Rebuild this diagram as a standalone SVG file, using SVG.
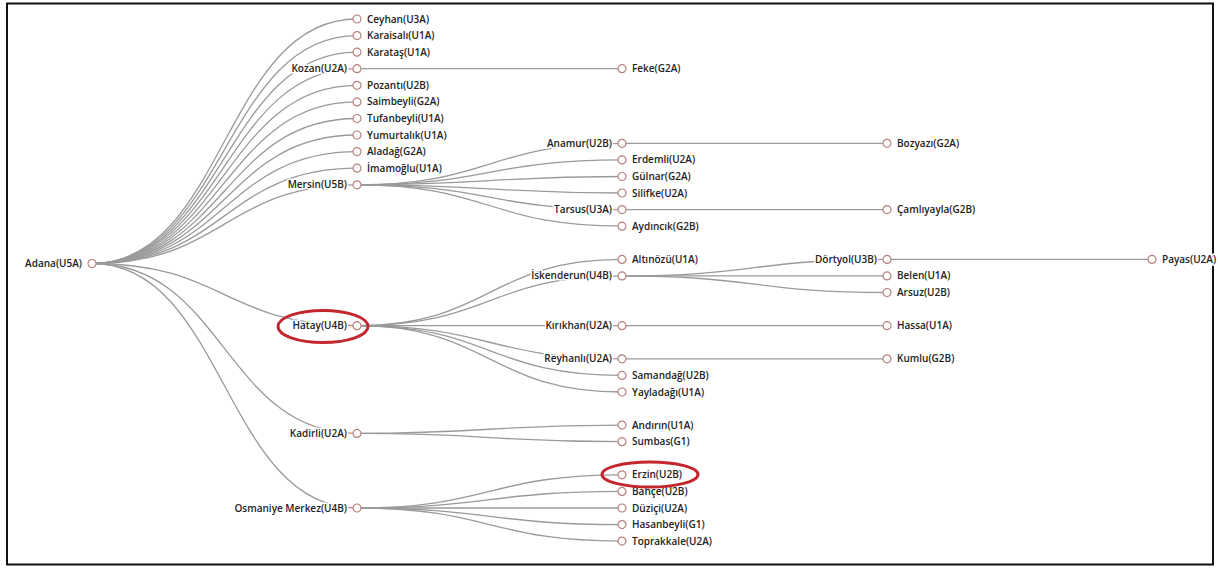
<svg xmlns="http://www.w3.org/2000/svg" width="1218" height="568" viewBox="0 0 1218 568">
<style>
.link{fill:none;stroke:#9a9a9a;stroke-width:1.3}
.node circle{fill:#fff;stroke:#b8827e;stroke-width:1.2}
.node text{font-family:"Open Sans","Noto Sans",sans-serif;font-weight:600;font-size:10px;fill:#222;stroke:#fff;stroke-width:3;stroke-linejoin:round;paint-order:stroke}
.node text.p{text-anchor:end}
.mark{fill:none;stroke:#c4262e;stroke-width:3}
</style>
<rect x="0" y="0" width="1218" height="568" fill="#fff"/>
<rect x="7" y="3.5" width="1206" height="561" fill="none" stroke="#111" stroke-width="2"/>
<g id="connectors">
<path class="link" d="M92,263.5C224.5,263.5 224.5,19 357,19"/>
<path class="link" d="M92,263.5C224.5,263.5 224.5,35.6 357,35.6"/>
<path class="link" d="M92,263.5C224.5,263.5 224.5,52.2 357,52.2"/>
<path class="link" d="M92,263.5C224.5,263.5 224.5,68.7 357,68.7"/>
<path class="link" d="M92,263.5C224.5,263.5 224.5,85.3 357,85.3"/>
<path class="link" d="M92,263.5C224.5,263.5 224.5,101.9 357,101.9"/>
<path class="link" d="M92,263.5C224.5,263.5 224.5,118.5 357,118.5"/>
<path class="link" d="M92,263.5C224.5,263.5 224.5,135 357,135"/>
<path class="link" d="M92,263.5C224.5,263.5 224.5,151.6 357,151.6"/>
<path class="link" d="M92,263.5C224.5,263.5 224.5,168.2 357,168.2"/>
<path class="link" d="M92,263.5C224.5,263.5 224.5,184.8 357,184.8"/>
<path class="link" d="M92,263.5C224.5,263.5 224.5,325.7 357,325.7"/>
<path class="link" d="M92,263.5C224.5,263.5 224.5,433.4 357,433.4"/>
<path class="link" d="M92,263.5C224.5,263.5 224.5,508 357,508"/>
<path class="link" d="M357,68.7C489.5,68.7 489.5,68.7 622,68.7"/>
<path class="link" d="M357,184.8C489.5,184.8 489.5,143.3 622,143.3"/>
<path class="link" d="M357,184.8C489.5,184.8 489.5,159.9 622,159.9"/>
<path class="link" d="M357,184.8C489.5,184.8 489.5,176.5 622,176.5"/>
<path class="link" d="M357,184.8C489.5,184.8 489.5,193 622,193"/>
<path class="link" d="M357,184.8C489.5,184.8 489.5,209.6 622,209.6"/>
<path class="link" d="M357,184.8C489.5,184.8 489.5,226.2 622,226.2"/>
<path class="link" d="M357,325.7C489.5,325.7 489.5,259.4 622,259.4"/>
<path class="link" d="M357,325.7C489.5,325.7 489.5,275.9 622,275.9"/>
<path class="link" d="M357,325.7C489.5,325.7 489.5,325.7 622,325.7"/>
<path class="link" d="M357,325.7C489.5,325.7 489.5,358.8 622,358.8"/>
<path class="link" d="M357,325.7C489.5,325.7 489.5,375.4 622,375.4"/>
<path class="link" d="M357,325.7C489.5,325.7 489.5,392 622,392"/>
<path class="link" d="M357,433.4C489.5,433.4 489.5,425.1 622,425.1"/>
<path class="link" d="M357,433.4C489.5,433.4 489.5,441.7 622,441.7"/>
<path class="link" d="M357,508C489.5,508 489.5,474.8 622,474.8"/>
<path class="link" d="M357,508C489.5,508 489.5,491.4 622,491.4"/>
<path class="link" d="M357,508C489.5,508 489.5,508 622,508"/>
<path class="link" d="M357,508C489.5,508 489.5,524.6 622,524.6"/>
<path class="link" d="M357,508C489.5,508 489.5,541.1 622,541.1"/>
<path class="link" d="M622,143.3C754.5,143.3 754.5,143.3 887,143.3"/>
<path class="link" d="M622,209.6C754.5,209.6 754.5,209.6 887,209.6"/>
<path class="link" d="M622,275.9C754.5,275.9 754.5,259.4 887,259.4"/>
<path class="link" d="M622,275.9C754.5,275.9 754.5,275.9 887,275.9"/>
<path class="link" d="M622,275.9C754.5,275.9 754.5,292.5 887,292.5"/>
<path class="link" d="M622,325.7C754.5,325.7 754.5,325.7 887,325.7"/>
<path class="link" d="M622,358.8C754.5,358.8 754.5,358.8 887,358.8"/>
<path class="link" d="M887,259.4C1019.5,259.4 1019.5,259.4 1152,259.4"/>
</g>
<g id="n-adana" class="node" transform="translate(92,263.5)"><circle r="4"/><text class="p" x="-10" dy="0.35em">Adana(U5A)</text></g>
<g id="n-ceyhan" class="node" transform="translate(357,19)"><circle r="4"/><text x="10" dy="0.35em">Ceyhan(U3A)</text></g>
<g id="n-karaisali" class="node" transform="translate(357,35.6)"><circle r="4"/><text x="10" dy="0.35em">Karaisalı(U1A)</text></g>
<g id="n-karatas" class="node" transform="translate(357,52.2)"><circle r="4"/><text x="10" dy="0.35em">Karataş(U1A)</text></g>
<g id="n-kozan" class="node" transform="translate(357,68.7)"><circle r="4"/><text class="p" x="-10" dy="0.35em">Kozan(U2A)</text></g>
<g id="n-pozanti" class="node" transform="translate(357,85.3)"><circle r="4"/><text x="10" dy="0.35em">Pozantı(U2B)</text></g>
<g id="n-saimbeyli" class="node" transform="translate(357,101.9)"><circle r="4"/><text x="10" dy="0.35em">Saimbeyli(G2A)</text></g>
<g id="n-tufanbeyli" class="node" transform="translate(357,118.5)"><circle r="4"/><text x="10" dy="0.35em">Tufanbeyli(U1A)</text></g>
<g id="n-yumurtalik" class="node" transform="translate(357,135)"><circle r="4"/><text x="10" dy="0.35em">Yumurtalık(U1A)</text></g>
<g id="n-aladag" class="node" transform="translate(357,151.6)"><circle r="4"/><text x="10" dy="0.35em">Aladağ(G2A)</text></g>
<g id="n-imamoglu" class="node" transform="translate(357,168.2)"><circle r="4"/><text x="10" dy="0.35em">İmamoğlu(U1A)</text></g>
<g id="n-mersin" class="node" transform="translate(357,184.8)"><circle r="4"/><text class="p" x="-10" dy="0.35em">Mersin(U5B)</text></g>
<g id="n-hatay" class="node" transform="translate(357,325.7)"><circle r="4"/><text class="p" x="-10" dy="0.35em">Hatay(U4B)</text></g>
<g id="n-kadirli" class="node" transform="translate(357,433.4)"><circle r="4"/><text class="p" x="-10" dy="0.35em">Kadirli(U2A)</text></g>
<g id="n-osmaniye" class="node" transform="translate(357,508)"><circle r="4"/><text class="p" x="-10" dy="0.35em">Osmaniye Merkez(U4B)</text></g>
<g id="n-feke" class="node" transform="translate(622,68.7)"><circle r="4"/><text x="10" dy="0.35em">Feke(G2A)</text></g>
<g id="n-anamur" class="node" transform="translate(622,143.3)"><circle r="4"/><text class="p" x="-10" dy="0.35em">Anamur(U2B)</text></g>
<g id="n-erdemli" class="node" transform="translate(622,159.9)"><circle r="4"/><text x="10" dy="0.35em">Erdemli(U2A)</text></g>
<g id="n-gulnar" class="node" transform="translate(622,176.5)"><circle r="4"/><text x="10" dy="0.35em">Gülnar(G2A)</text></g>
<g id="n-silifke" class="node" transform="translate(622,193)"><circle r="4"/><text x="10" dy="0.35em">Silifke(U2A)</text></g>
<g id="n-tarsus" class="node" transform="translate(622,209.6)"><circle r="4"/><text class="p" x="-10" dy="0.35em">Tarsus(U3A)</text></g>
<g id="n-aydincik" class="node" transform="translate(622,226.2)"><circle r="4"/><text x="10" dy="0.35em">Aydıncık(G2B)</text></g>
<g id="n-altinozu" class="node" transform="translate(622,259.4)"><circle r="4"/><text x="10" dy="0.35em">Altınözü(U1A)</text></g>
<g id="n-iskenderun" class="node" transform="translate(622,275.9)"><circle r="4"/><text class="p" x="-10" dy="0.35em">İskenderun(U4B)</text></g>
<g id="n-kirikhan" class="node" transform="translate(622,325.7)"><circle r="4"/><text class="p" x="-10" dy="0.35em">Kırıkhan(U2A)</text></g>
<g id="n-reyhanli" class="node" transform="translate(622,358.8)"><circle r="4"/><text class="p" x="-10" dy="0.35em">Reyhanlı(U2A)</text></g>
<g id="n-samandag" class="node" transform="translate(622,375.4)"><circle r="4"/><text x="10" dy="0.35em">Samandağ(U2B)</text></g>
<g id="n-yayladagi" class="node" transform="translate(622,392)"><circle r="4"/><text x="10" dy="0.35em">Yayladağı(U1A)</text></g>
<g id="n-andirin" class="node" transform="translate(622,425.1)"><circle r="4"/><text x="10" dy="0.35em">Andırın(U1A)</text></g>
<g id="n-sumbas" class="node" transform="translate(622,441.7)"><circle r="4"/><text x="10" dy="0.35em">Sumbas(G1)</text></g>
<g id="n-erzin" class="node" transform="translate(622,474.8)"><circle r="4"/><text x="10" dy="0.35em">Erzin(U2B)</text></g>
<g id="n-bahce" class="node" transform="translate(622,491.4)"><circle r="4"/><text x="10" dy="0.35em">Bahçe(U2B)</text></g>
<g id="n-duzici" class="node" transform="translate(622,508)"><circle r="4"/><text x="10" dy="0.35em">Düziçi(U2A)</text></g>
<g id="n-hasanbeyli" class="node" transform="translate(622,524.6)"><circle r="4"/><text x="10" dy="0.35em">Hasanbeyli(G1)</text></g>
<g id="n-toprakkale" class="node" transform="translate(622,541.1)"><circle r="4"/><text x="10" dy="0.35em">Toprakkale(U2A)</text></g>
<g id="n-bozyazi" class="node" transform="translate(887,143.3)"><circle r="4"/><text x="10" dy="0.35em">Bozyazı(G2A)</text></g>
<g id="n-camliyayla" class="node" transform="translate(887,209.6)"><circle r="4"/><text x="10" dy="0.35em">Çamlıyayla(G2B)</text></g>
<g id="n-dortyol" class="node" transform="translate(887,259.4)"><circle r="4"/><text class="p" x="-10" dy="0.35em">Dörtyol(U3B)</text></g>
<g id="n-belen" class="node" transform="translate(887,275.9)"><circle r="4"/><text x="10" dy="0.35em">Belen(U1A)</text></g>
<g id="n-arsuz" class="node" transform="translate(887,292.5)"><circle r="4"/><text x="10" dy="0.35em">Arsuz(U2B)</text></g>
<g id="n-hassa" class="node" transform="translate(887,325.7)"><circle r="4"/><text x="10" dy="0.35em">Hassa(U1A)</text></g>
<g id="n-kumlu" class="node" transform="translate(887,358.8)"><circle r="4"/><text x="10" dy="0.35em">Kumlu(G2B)</text></g>
<g id="n-payas" class="node" transform="translate(1152,259.4)"><circle r="4"/><text x="10" dy="0.35em">Payas(U2A)</text></g>
<g id="highlights">
<ellipse class="mark" cx="323" cy="326.5" rx="45" ry="16"/>
<ellipse class="mark" cx="650" cy="474.5" rx="48" ry="12.5"/>
</g>
</svg>
